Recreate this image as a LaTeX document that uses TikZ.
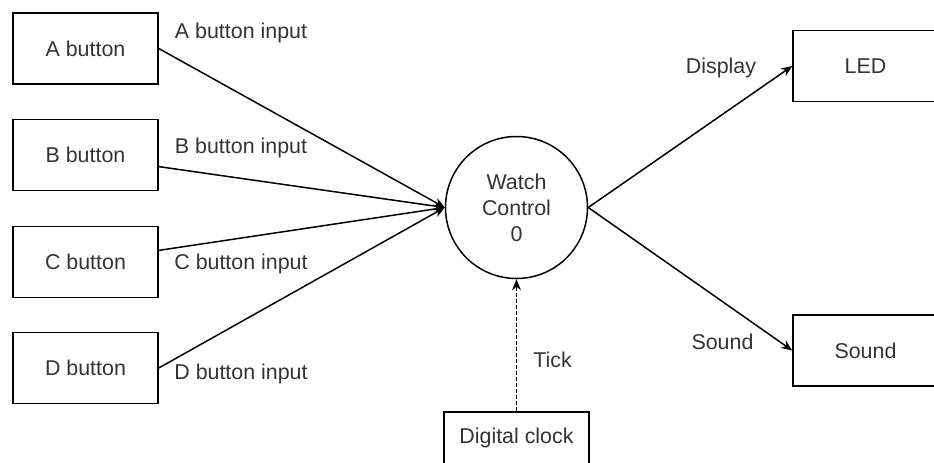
\documentclass[tikz,border=0pt]{standalone}
\usepackage{fontspec}
\setmainfont{Liberation Sans}
\usetikzlibrary{arrows.meta}
\definecolor{txt}{HTML}{333333}

\begin{document}
\begin{tikzpicture}[x=0.5pt,y=-0.5pt,
    box/.style={draw, line width=0.75pt, minimum width=72.5pt, minimum height=35.5pt,
      inner sep=0pt, text=txt, font=\fontsize{10.7}{13}\selectfont},
    lbl/.style={text=txt, inner sep=0pt, font=\fontsize{10.7}{13}\selectfont},
    flow/.style={line width=0.75pt, -{Stealth[length=5.5pt,width=4.5pt]}}]
  \useasboundingbox (0,0) rectangle (934,462);
  \clip (0,0) rectangle (934,462);

  % buttons on the left
  \node[box] (abtn) at (85.5,48.5) {A button};
  \node[box] (bbtn) at (85.5,155) {B button};
  \node[box] (cbtn) at (85.5,262) {C button};
  \node[box] (dbtn) at (85.5,368) {D button};

  \node[box, circle, minimum size=71pt, align=center] (watch) at (516.5,207.5) {Watch\\Control\\0};

  \node[box] (led) at (865.5,66) {LED};
  \node[box] (snd) at (865.5,350.5) {Sound};
  \node[box, minimum height=26pt] (clock) at (516.5,438) {Digital clock};

  % edge labels
  \node[lbl] (ain) at (241,32.5) {A button input};
  \node[lbl] (bin) at (241,148) {B button input};
  \node[lbl] (cin) at (241,263.5) {C button input};
  \node[lbl] (din) at (241,373.5) {D button input};
  \node[lbl] (disp) at (721,68) {Display};
  \node[lbl] (sndl) at (722.5,341.5) {Sound};
  \node[lbl] (tick) at (552.5,360) {Tick};

  \draw[flow] (abtn.east) -- (watch.west);
  \draw[flow] (bbtn.-9.4) -- (watch.west);
  \draw[flow] (cbtn.9.4) -- (watch.west);
  \draw[flow] (dbtn.east) -- (watch.west);

  \draw[flow] (watch.east) -- (led.west);
  \draw[flow] (watch.east) -- (snd.west);

  \draw[flow, dash pattern=on 2pt off 1pt] (clock.north) -- (watch.south);
\end{tikzpicture}
\end{document}
